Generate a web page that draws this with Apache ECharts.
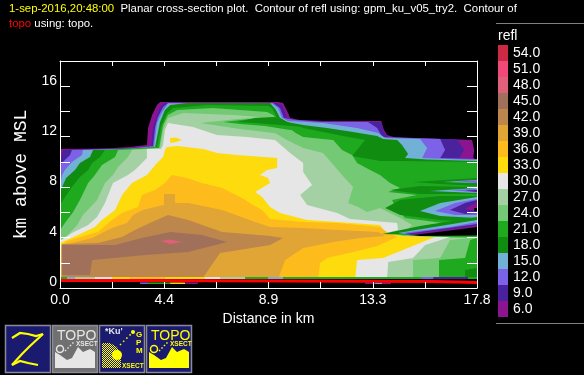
<!DOCTYPE html>
<html><head><meta charset="utf-8">
<style>html,body{margin:0;padding:0;background:#000}#c{width:584px;height:375px}</style>
<script src="https://cdn.jsdelivr.net/npm/echarts@6/dist/echarts.min.js"></script>
</head><body><div id="c"></div>
<script>
// Tick labels
const xTickLabels = ['0.0','','4.4','','8.9','','13.3','','17.8'];
const yTickLabels = ['0','','4','','8','','12','','16',''];
// Contour levels (dBZ) and their colours
const levels = [6,9,12,15,18,21,24,27,30,33,36,39,42,45,48,51,54];
const levelColors = ['#8B1490','#4B229E','#7B62E6','#72B1D6','#108D10','#1FA91F','#74C974','#A4D1A4','#E6E6E6','#FDDB0D','#FDBB1C','#E0A535','#BC864C','#A0705A','#E0607C','#F04878','#CC2944'];
// Topography (km, km)
const topoX = [0,2.99,15.95,17.8];
const topoY = [0.59,0.52,0.43,0.43];
// Contour regions: flat lists of distance km, height km
const echo6 = [0,11.02,1.92,11.06,2.99,11.18,3.71,11.34,3.76,12.69,3.93,13.72,4.14,14.51,4.27,14.75,9.31,14.75,9.52,14.67,9.74,13.88,9.82,13.48,10.25,13.32,11.32,13.24,13.71,13.24,13.83,12.53,13.96,12.13,14.39,11.90,16.57,11.82,17.59,11.74,17.68,10.94,17.64,10.31,17.8,10.15,17.8,0.71,0,0.71];
const echo9 = [0.13,10.94,2.99,11.10,3.89,11.26,3.97,12.69,4.14,13.72,4.27,14.35,4.48,14.67,9.18,14.67,9.48,14.51,9.69,13.48,10.25,13.28,11.32,13.20,13.71,13.16,13.83,12.29,14.01,11.97,16.95,11.78,17.25,10.94,17.04,10.31,17.8,10.19,17.8,0.71,0,0.71,0,9.99];
const echo12 = [0.51,10.94,2.99,11.06,3.97,11.26,4.06,12.77,4.18,13.56,4.40,14.35,4.61,14.67,9.10,14.67,9.39,14.27,9.56,13.48,10.08,13.32,11.19,13.16,13.15,13.16,13.54,12.69,13.75,11.97,16.23,11.82,16.44,10.94,16.23,10.31,17.8,10.23,17.8,0.71,0,0.71,0,9.75,0.21,10.15,0.43,10.55];
const echo15 = [0.98,10.94,2.99,11.02,4.01,11.18,4.14,13.08,4.36,13.96,4.61,14.63,9.05,14.63,9.31,14.27,9.48,13.48,9.74,13.24,10.16,13.20,11.23,13.08,12.68,12.69,13.58,12.29,13.88,11.90,15.37,11.82,15.67,11.10,15.46,10.31,16.52,10.23,17.8,10.15,17.8,0.71,0,0.71,0,8.17,0.09,8.96,0.21,9.36,0.51,9.99,0.94,10.55];
const echo18 = [1.41,10.94,2.99,10.98,4.06,11.18,4.27,13.16,4.48,14.12,4.70,14.51,5.42,14.67,8.97,14.67,9.22,14.12,9.39,13.48,9.69,13.16,10.38,12.93,11.40,12.69,12.51,12.37,13.54,12.05,13.79,11.82,14.39,11.74,14.60,11.34,14.86,10.63,14.73,10.31,15.67,10.19,17.8,10.07,17.8,0.71,0,0.71,0,7.77,0.09,8.01,0.26,8.72,0.64,9.36,0.85,9.91,1.28,10.39];
const echo21 = [1.92,10.94,4.14,11.18,4.31,12.77,4.57,13.88,4.83,14.27,6.28,14.51,8.88,14.43,9.05,14.27,9.27,13.48,9.52,13.32,10.38,12.69,11.23,12.37,11.87,12.13,13.02,11.74,12.47,10.47,13.66,10.07,14.52,10.07,17.8,9.99,17.8,1.59,17.29,1.43,17.29,0.71,0,0.71,0,6.58,0.13,6.98,0.51,8.01,0.85,8.80,1.20,9.36,1.37,9.91,1.71,10.39];
const echo24 = [2.48,10.94,4.23,11.10,4.40,12.93,4.61,13.72,5.00,14.12,6.53,14.27,8.84,13.96,9.10,13.72,9.27,13.32,9.82,12.53,10.38,11.97,11.66,11.74,12.04,10.94,12.47,10.55,12.68,9.91,13.24,9.36,13.66,8.96,14.09,8.33,14.52,7.93,14.01,7.61,15.24,7.37,14.18,6.98,14.30,6.42,14.73,5.55,16.35,5.15,15.37,4.60,14.52,4.36,15.03,4.12,17.8,3.97,17.51,3.81,17.29,2.38,16.18,2.22,16.18,0.71,0,0.71,0,4.60,0.21,5.15,0.56,6.03,0.85,6.98,1.20,8.33,1.49,8.96,1.79,9.75,2.35,10.39];
const echo27 = [3.07,10.94,4.27,11.10,4.40,12.53,4.61,13.48,5.25,13.88,7.39,13.72,9.05,13.48,9.10,12.37,9.69,11.74,10.38,11.10,11.23,10.71,12.04,8.96,12.51,8.01,12.30,6.74,12.72,6.42,13.11,6.03,13.66,6.34,14.52,5.55,15.03,5.00,14.73,4.44,14.43,4.12,15.16,3.97,17.8,4.00,16.65,3.81,16.23,2.38,15.07,2.22,15.07,0.71,0,0.71,0,3.81,0.34,4.20,0.73,5.00,0.98,5.79,1.58,6.98,1.92,8.33,2.26,8.96,2.48,9.60,2.90,10.39];
const wedge24 = [5.98,13.08,7.56,13.40,8.63,13.56,9.27,13.48,10.25,11.97,9.10,12.29,7.69,12.61];
const wedge21 = [6.96,13.16,8.11,13.40,8.75,13.48,9.39,13.32,10.38,12.69,9.82,12.53,8.75,12.85,7.69,13.00];
const wedge18 = [7.56,13.16,8.33,13.48,9.10,13.56,9.39,13.48,9.69,13.16,10.38,12.77,9.39,12.93,8.33,13.08];
const echo30 = [3.71,11.02,4.31,11.02,4.40,11.34,4.48,12.53,4.61,13.08,5.68,12.77,6.70,12.13,7.98,11.97,9.18,11.74,9.82,10.71,10.38,9.91,10.38,9.20,10.76,8.17,10.25,7.37,10.55,6.58,11.83,5.95,12.38,5.47,14.39,5.15,14.43,4.60,13.92,4.36,14.30,4.08,16.65,4.04,15.59,3.41,15.07,2.38,14.01,2.06,13.96,0.71,0,0.71,0,3.73,0.51,4.36,1.20,5.00,1.58,5.63,1.92,6.74,2.26,8.33,2.90,8.96,3.20,9.36,3.71,10.31];
const echo33 = [0,3.57,0.77,4.20,1.49,4.84,1.79,5.39,2.35,6.19,2.65,7.37,3.07,8.33,3.71,8.96,4.14,9.91,4.40,10.39,4.48,10.94,4.57,11.18,5.00,11.26,6.11,11.02,6.70,10.71,7.56,10.55,9.27,10.31,9.27,9.52,8.84,9.36,8.54,8.96,8.88,8.72,8.97,8.33,8.33,7.61,8.63,7.22,8.97,6.42,9.39,5.95,10.55,5.39,11.83,5.23,13.66,5.00,13.88,4.44,14.65,4.12,16.01,4.04,14.95,3.25,13.79,2.38,12.68,2.22,12.60,0.71,0,0.71];
const island33 = [4.70,11.90,4.95,11.93,5.21,11.74,4.95,11.58,4.70,11.50];
const echo36 = [0,3.41,0.43,3.81,1.62,4.44,2.22,5.39,2.65,5.95,3.33,6.42,3.50,7.37,4.06,7.77,4.48,8.33,4.78,8.96,5.42,8.72,6.06,8.33,6.92,7.93,7.77,7.14,8.24,6.58,8.63,6.19,8.97,5.47,10.38,5.23,11.83,5.15,13.66,4.84,14.01,4.36,14.39,4.04,13.54,3.33,12.51,2.85,11.40,2.38,11.10,1.98,11.02,0.71,0,0.71];
const echo39 = [0,3.33,1.37,3.97,2.22,4.76,2.86,5.15,3.12,5.79,3.54,6.19,4.06,6.42,4.44,6.58,4.44,7.45,4.91,7.45,4.91,6.74,5.47,6.74,6.92,6.19,8.33,5.23,8.97,4.84,10.38,4.76,11.83,4.60,13.58,4.44,13.88,4.12,12.81,3.97,11.66,3.65,10.38,3.17,9.61,2.22,9.31,0.71,0,0.71];
const echo42 = [0.09,3.49,1.62,3.57,2.65,4.04,3.20,4.60,3.93,5.23,4.61,5.79,5.47,5.39,6.92,4.44,8.97,4.12,9.52,3.97,8.97,3.41,6.83,2.78,6.06,0.71,0.09,0.71];
const echo45 = [0.09,3.41,2.35,3.41,3.50,3.97,4.70,4.44,6.06,4.20,7.13,3.65,5.47,2.85,3.63,2.62,1.37,2.22,1.28,1.03,0.09,1.03];
const echo48 = [4.31,3.73,4.70,3.85,5.21,3.65,4.70,3.49];
const blobA18 = [15.07,8.41,17.8,8.72,17.8,8.09,16.23,8.25];
const blobA15 = [16.35,8.41,17.8,8.56,17.8,8.33];
const blobA12 = [16.87,8.49,17.8,8.52,17.8,8.33];
const blobB18 = [14.09,7.77,15.37,8.09,17.8,8.01,17.8,7.45,15.37,7.45];
const blobB15 = [15.80,7.69,17.8,7.93,17.8,7.53];
const blobB12 = [16.65,7.77,17.8,7.85,17.8,7.57];
const blobB9 = [17.29,7.73,17.8,7.77,17.8,7.61];
const blobC18 = [13.88,6.34,14.52,6.98,16.23,7.30,17.8,7.30,17.8,5.23,16.23,5.39,14.52,5.79];
const blobC15 = [15.37,6.11,16.23,6.74,17.8,7.22,17.8,5.55,16.23,5.71];
const blobC12 = [16.01,6.11,16.87,6.74,17.8,7.06,17.8,5.79,16.87,5.79];
const blobC9 = [16.65,6.19,17.29,6.74,17.8,6.98,17.8,5.95,17.29,5.87];
const blobC6 = [17.29,6.26,17.8,6.82,17.8,6.11];
const blobC0 = [17.68,6.34,17.8,6.34,17.8,6.11,17.68,6.11];
const streak18 = [13.75,4.28,15.37,4.92,17.8,5.63,17.8,4.84,15.07,4.20];
const streak15 = [14.43,4.36,16.23,4.92,17.8,5.39,17.8,4.84,15.07,4.20];
const streak12 = [14.60,4.36,16.65,4.84,17.8,5.23,17.8,4.84,15.07,4.20];
const streak9 = [14.73,4.28,17.8,5.08,17.8,4.84,15.07,4.20];
const streak6 = [14.86,4.24,17.8,4.96,17.8,4.84,15.07,4.20];
const notch0 = [15.07,4.20,17.8,4.84,17.8,4.16,15.37,4.12];
// Thin bands hugging the ground: level, from km, to km
const groundBands = [[21,0,.30],[15,.30,.64],[27,.64,1.49],[30,1.49,2.22],[33,2.22,2.99],[36,2.99,4.48],[33,4.48,6.19],[30,6.19,6.83],[27,6.83,7.90],[21,7.90,8.88],[15,8.88,9.52],[21,9.52,15.41],[12,15.41,15.93],[9,15.93,17.42],[21,17.42,17.8]];
const belowBands = [[12,3.42,3.76],[21,3.76,4.70],[33,4.70,5.34],[6,5.34,5.89],[6,13.02,13.45],[15,13.45,13.75],[6,13.75,14.13]];

const regions = [
 [6,echo6],[9,echo9],[12,echo12],[15,echo15],[18,echo18],[21,echo21],[24,echo24],[27,echo27],
 [24,wedge24],[21,wedge21],[18,wedge18],
 [30,echo30],[33,echo33],[33,island33],[36,echo36],[39,echo39],[42,echo42],[45,echo45],[48,echo48],
 [18,blobA18],[15,blobA15],[12,blobA12],
 [18,blobB18],[15,blobB15],[12,blobB12],[9,blobB9],
 [18,blobC18],[15,blobC15],[12,blobC12],[9,blobC9],[6,blobC6],[0,blobC0],
 [18,streak18],[15,streak15],[12,streak12],[9,streak9],[6,streak6],[0,notch0]
];
groundBands.forEach(b=>regions.push([b[0],[b[1],.87,b[2],.87,b[2],.71,b[1],.71]]));
belowBands.forEach(b=>regions.push([b[0],[b[1],.44,b[2],.44,b[2],.32,b[1],.32]]));

const chart = echarts.init(document.getElementById('c'),null,{renderer:'canvas'});
const sans = '"Liberation Sans"';
const white = '#fff';
const tickAxis = (extra)=>Object.assign({type:'value',z:10,splitLine:{show:false},
  axisLine:{show:true,onZero:false,lineStyle:{color:white,width:1}}},extra);

// ---- icon helpers (decorative buttons) ----
function dither(){const c=document.createElement('canvas');c.width=2;c.height=2;const g=c.getContext('2d');g.fillStyle='#ffff00';g.fillRect(0,0,1,1);g.fillRect(1,1,1,1);return c;}
const navy='#1A1A6E', grey='#707070', edge='#8A8A9A', yel='#ffff00', pale='#E6E6E6';
function box(x,fill){return {type:'rect',shape:{x:x+.5,y:325.5,width:45,height:47},style:{fill:fill,stroke:edge,lineWidth:1.5},silent:true};}
function txt(x,y,t,size,fill,weight){return {type:'text',x:x,y:y,silent:true,style:{text:t,fill:fill,font:(weight||'normal')+' '+size+'px '+sans,textVerticalAlign:'middle'}};}
function poly(pts,fill){return {type:'polygon',silent:true,shape:{points:pts},style:{fill:fill}};}
function line(pts,stroke,w,dash){return {type:'polyline',silent:true,shape:{points:pts},style:{stroke:stroke,lineWidth:w,fill:'none',lineDash:dash||null}};}
function topoIcon(x,col){return [
  txt(x+5,336,'TOPO',14,col),txt(x+24,344,'XSECT',6.5,col,'bold'),
  poly([[x+3,368],[x+3,352],[x+8,355],[x+15,360],[x+20,358],[x+26,347],[x+31,352],[x+38,349],[x+43,352],[x+43,368]],col),
  {type:'circle',silent:true,shape:{cx:x+8,cy:349,r:3.5},style:{fill:'none',stroke:col,lineWidth:1.5}},
  line([[x+13,351],[x+22,342]],col,1.5,[1.5,2])];}
const iconElems = [].concat(
  [box(5,navy),
   line([[12,338],[20,333],[28,334],[36,336],[43,334]],yel,2.2),
   line([[43,334],[30,346],[22,354],[12,365]],yel,2.2),
   line([[12,365],[20,361],[28,363],[38,365]],yel,2.2),
   box(52,grey)],
  topoIcon(52,pale),
  [box(99,navy),
   txt(105,332,"*Ku'",9,pale,'bold'),
   txt(136,335,'G',8,yel,'bold'),txt(136,343,'P',8,yel,'bold'),txt(136,351,'M',8,yel,'bold'),
   {type:'polygon',silent:true,shape:{points:[[102,368],[102,343],[110,343],[117,347],[121,355],[121,368]]},style:{fill:{image:dither(),repeat:'repeat'}}},
   {type:'circle',silent:true,shape:{cx:117,cy:355,r:5},style:{fill:yel}},
   line([[120,345],[132,333]],yel,1.5,[1.5,3]),
   {type:'circle',silent:true,shape:{cx:133,cy:332,r:2},style:{fill:yel}},
   txt(122,366,'XSECT',6.5,yel,'bold'),
   box(146,navy)],
  topoIcon(146,yel)
);

const titleFont = (c)=>({color:c,fontFamily:sans,fontSize:11.4,fontWeight:'normal',lineHeight:15});
chart.setOption({
  animation:false,
  backgroundColor:'#000',
  title:{left:9,top:1,padding:0,
    text:'{y|1-sep-2016,20:48:00}{w|  Planar cross-section plot.  Contour of refl using: gpm_ku_v05_try2.  Contour of}\n{r|topo}{w| using: topo.}',
    textStyle:{fontWeight:'normal',rich:{y:titleFont(yel),w:titleFont(white),r:titleFont('#ff0000')}}},
  grid:{left:60,right:107,top:61,bottom:87,containLabel:false},
  xAxis:[
    tickAxis({position:'bottom',min:0,max:17.8,interval:2.225,
      axisTick:{inside:true,length:6,lineStyle:{color:white,width:1}},
      axisLabel:{color:white,fontFamily:sans,fontSize:14,margin:5,showMinLabel:true,showMaxLabel:true,hideOverlap:false,
        formatter:(v)=>xTickLabels[Math.round(v/2.225)]},
      name:'Distance in km',nameLocation:'middle',nameGap:20,nameTextStyle:{color:white,fontFamily:sans,fontSize:14}}),
    tickAxis({position:'top',min:0,max:17.8,interval:2.225,
      axisTick:{inside:true,length:5,lineStyle:{color:white,width:1}},axisLabel:{show:false}})
  ],
  yAxis:[
    tickAxis({position:'left',min:0,max:18,interval:2,
      axisTick:{inside:true,length:10,lineStyle:{color:white,width:1}},
      axisLabel:{color:white,fontFamily:sans,fontSize:14,margin:3,verticalAlign:'bottom',lineHeight:11,showMinLabel:true,showMaxLabel:true,hideOverlap:false,
        formatter:(v)=>yTickLabels[Math.round(v/2)]},
      name:'km above MSL',nameLocation:'middle',nameGap:30,nameRotate:90,
      nameTextStyle:{color:white,fontFamily:'"Liberation Mono"',fontSize:18}}),
    tickAxis({position:'right',min:0,max:18,interval:2,
      axisTick:{inside:true,length:10,lineStyle:{color:white,width:1}},axisLabel:{show:false}})
  ],
  visualMap:{type:'piecewise',seriesIndex:0,dimension:0,left:498,top:45,orient:'vertical',
    itemWidth:10,itemHeight:16,itemGap:0,itemSymbol:'rect',textGap:5,padding:0,align:'left',
    selectedMode:false,hoverLink:false,
    textStyle:{color:white,fontFamily:sans,fontSize:14},
    pieces:levels.map((v,i)=>({value:v,label:v.toFixed(1),color:levelColors[i]})),
    outOfRange:{color:'#000'}},
  graphic:{elements:[
    {type:'line',silent:true,shape:{x1:496,y1:23.5,x2:584,y2:23.5},style:{stroke:'#808080',lineWidth:1}},
    {type:'line',silent:true,shape:{x1:496,y1:323.5,x2:584,y2:323.5},style:{stroke:'#808080',lineWidth:1}},
    txt(498,36,'refl',14,white)
  ].concat(iconElems)},
  series:[
    {type:'custom',coordinateSystem:'cartesian2d',xAxisIndex:0,yAxisIndex:0,silent:true,z:2,clip:true,
     data:regions.map((r,i)=>[r[0],i]),
     encode:{value:0},
     renderItem:(params,api)=>{
       const flat=regions[api.value(1)][1],pts=[];
       for(let i=0;i<flat.length;i+=2)pts.push(api.coord([flat[i],flat[i+1]]));
       const col=api.visual('color');
       return {type:'polygon',shape:{points:pts},style:{fill:col,stroke:null}};
     }},
    {type:'line',name:'topo',xAxisIndex:0,yAxisIndex:0,step:'end',showSymbol:false,silent:true,z:5,
     data:topoX.map((x,i)=>[x,topoY[i]]),
     lineStyle:{color:'#ff0000',width:3}}
  ]
});
</script></body></html>
